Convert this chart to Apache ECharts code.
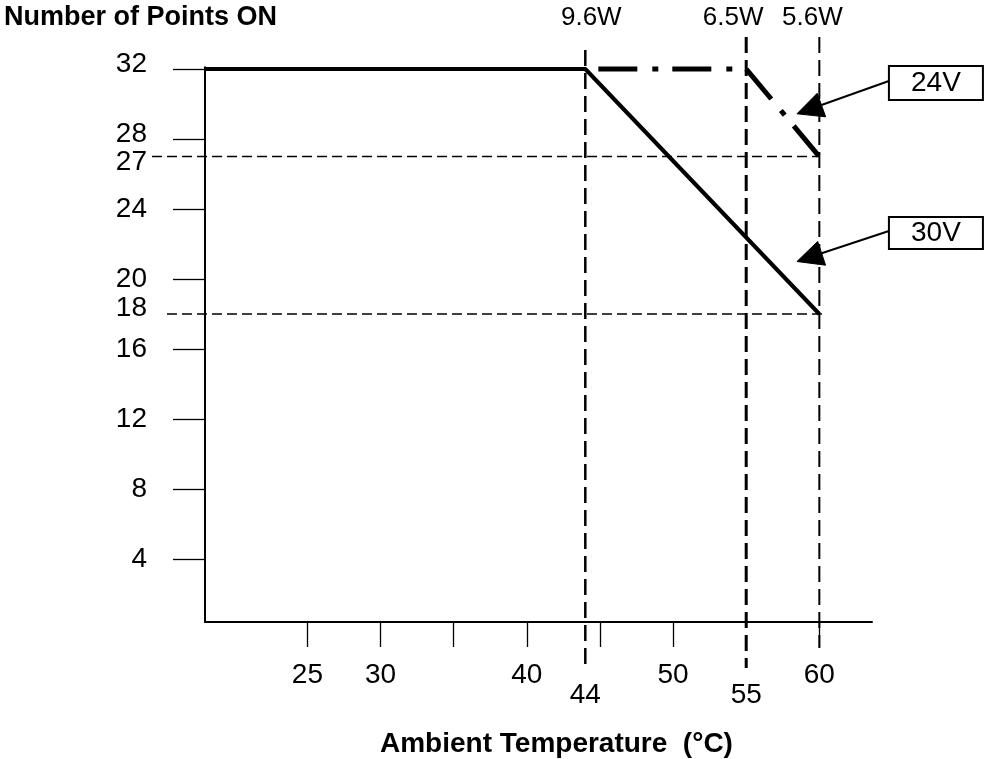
<!DOCTYPE html>
<html><head><meta charset="utf-8">
<script src="https://cdn.jsdelivr.net/npm/echarts@6/dist/echarts.min.js"></script>
<style>html,body{margin:0;padding:0;background:#fff}#c{width:986px;height:759px}</style>
</head><body><div id="c"></div>
<script>
// ---- data ----
const yTitle = 'Number of Points ON';
const xTitle = 'Ambient Temperature  (°C)';
const xTickValues = [25, 30, 35, 40, 45, 50, 60];
const xLabelValues = [25, 30, 40, 50, 60];
const xLowLabelValues = [44, 55];
const yTickValues = [4, 8, 12, 16, 20, 24, 28, 32];
const yLabelValues = [4, 8, 12, 16, 18, 20, 24, 27, 28, 32];
const temp30V = [18, 44, 60];
const points30V = [32, 32, 18];
const temp24V = [44, 55, 60];
const points24V = [32, 32, 27];
const breakTemps = [44, 55, 60];
const breakPower = ['9.6W', '6.5W', '5.6W'];
const limitLevels = [27, 18];
const seriesNames = ['24V', '30V'];

// ---- layout / style ----
const FONT = "'Liberation Sans', Arial, Helvetica, sans-serif";
const X_MIN = 18, X_MAX = 63.6, Y_MIN = 0.4, Y_MAX = 32.1;
const vTop = [33.09, 33.83, 33.83];
const vBot = [-2.06, -2.23, -1.09];
const vWidth = [2.5, 3, 2];
const powerDx = [6, -13, -7];
const hStart = [14.38, 15.4];
const hEnd = [60, 60.5];
const calloutTip = [[58.47, 29.44], [58.47, 21.0]];
const calloutBox = [[67.97, 31.2], [67.97, 22.63]];
const boxH = [34, 32];

const chart = echarts.init(document.getElementById('c'), null, {renderer: 'canvas'});

const labelShift = {32: 'u', 28: 'u', 18: 'u2', 27: 'd'};
const richBase = {fontFamily: FONT, fontSize: 28, color: '#000'};

const option = {
  backgroundColor: '#fff',
  animation: false,
  title: [
    {text: yTitle, left: 4, top: 4, padding: 0,
     textStyle: {fontFamily: FONT, fontSize: 27, fontWeight: 'bold', color: '#000'}},
    {text: xTitle, left: 380, top: 730, padding: 0,
     textStyle: {fontFamily: FONT, fontSize: 28, fontWeight: 'bold', color: '#000'}}
  ],
  grid: {left: 205, right: 114, top: 67.25, bottom: 137, containLabel: false, outerBoundsMode: 'none'},
  xAxis: [
    {type: 'value', min: X_MIN, max: X_MAX, position: 'bottom',
     axisLine: {show: true, lineStyle: {color: '#000', width: 2}},
     axisTick: {show: true, inside: false, length: 25, customValues: xTickValues, lineStyle: {color: '#000', width: 1.3}},
     axisLabel: {show: true, customValues: xLabelValues, margin: 39, hideOverlap: false,
                 fontFamily: FONT, fontSize: 28, color: '#000'},
     splitLine: {show: false}},
    {type: 'value', min: X_MIN, max: X_MAX, position: 'bottom', offset: 0,
     axisLine: {show: false}, axisTick: {show: false},
     axisLabel: {show: true, customValues: xLowLabelValues, margin: 59, hideOverlap: false,
                 fontFamily: FONT, fontSize: 28, color: '#000'},
     splitLine: {show: false}}
  ],
  yAxis: {
    type: 'value', min: Y_MIN, max: Y_MAX,
    axisLine: {show: true, lineStyle: {color: '#000', width: 2}},
    axisTick: {show: true, inside: false, length: 32, customValues: yTickValues, lineStyle: {color: '#000', width: 1.3}},
    axisLabel: {show: true, customValues: yLabelValues, margin: 58, hideOverlap: false,
                fontFamily: FONT, fontSize: 28, color: '#000',
                formatter: v => labelShift[v] ? '{' + labelShift[v] + '|' + v + '}' : String(v),
                rich: {
                  u: Object.assign({padding: [0, 0, 10, 0]}, richBase),
                  u2: Object.assign({padding: [0, 0, 12, 0]}, richBase),
                  d: Object.assign({padding: [12, 0, 0, 0]}, richBase)
                }},
    splitLine: {show: false}
  },
  series: [
    { // horizontal limit guides
      type: 'custom', name: 'levels', clip: false, silent: true, z: 1,
      data: limitLevels.map(v => [X_MIN, v]),
      renderItem: (params, api) => {
        const i = params.dataIndex;
        const v = api.value(1);
        const a = api.coord([hStart[i], v]);
        const b = api.coord([hEnd[i], v]);
        return {type: 'line', shape: {x1: a[0], y1: a[1], x2: b[0], y2: b[1]},
                style: {stroke: '#000', lineWidth: 1.3, lineDash: [10, 5], fill: null}};
      }
    },
    { // vertical break guides with power labels
      type: 'custom', name: 'breaks', clip: false, silent: true, z: 1,
      data: breakTemps.map(t => [t, Y_MIN]),
      renderItem: (params, api) => {
        const i = params.dataIndex;
        const t = api.value(0);
        const a = api.coord([t, vTop[i]]);
        const b = api.coord([t, vBot[i]]);
        const lp = api.coord([t, 34.95]);
        return {type: 'group', children: [
          {type: 'line', shape: {x1: a[0], y1: a[1], x2: b[0], y2: b[1]},
           style: {stroke: '#000', lineWidth: vWidth[i], lineDash: [16, 7], fill: null}},
          {type: 'text', x: lp[0] + powerDx[i], y: lp[1],
           style: {text: breakPower[i], fontFamily: FONT, fontSize: 26, fill: '#000', align: 'center', verticalAlign: 'middle'}}
        ]};
      }
    },
    {
      type: 'line', name: seriesNames[0], data: temp24V.map((t, i) => [t, points24V[i]]),
      showSymbol: false, symbol: 'none', clip: false, z: 3,
      lineStyle: {color: '#000', width: 5, type: [39, 15, 6, 14], dashOffset: 61, cap: 'butt'}
    },
    {
      type: 'line', name: seriesNames[1], data: temp30V.map((t, i) => [t, points30V[i]]),
      showSymbol: false, symbol: 'none', clip: false, z: 3,
      lineStyle: {color: '#000', width: 4, type: 'solid', cap: 'butt'}
    },
    { // callouts
      type: 'custom', name: 'callouts', clip: false, silent: true, z: 4,
      data: seriesNames.map((n, i) => [calloutBox[i][0], calloutBox[i][1]]),
      renderItem: (params, api) => {
        const i = params.dataIndex;
        const tip = api.coord(calloutTip[i]);
        const c = api.coord(calloutBox[i]);
        const w = 94, h = boxH[i];
        const tail = [c[0] - w / 2, c[1] - 2];
        const dx = tail[0] - tip[0], dy = tail[1] - tip[1];
        const len = Math.sqrt(dx * dx + dy * dy);
        const ux = dx / len, uy = dy / len;
        const hl = 26, hw = 12.5;
        const base = [tip[0] + ux * hl, tip[1] + uy * hl];
        const p1 = [base[0] - uy * hw, base[1] + ux * hw];
        const p2 = [base[0] + uy * hw, base[1] - ux * hw];
        return {type: 'group', children: [
          {type: 'line', shape: {x1: tail[0], y1: tail[1], x2: base[0], y2: base[1]},
           style: {stroke: '#000', lineWidth: 2, fill: null}},
          {type: 'polygon', shape: {points: [tip, p1, p2]}, style: {fill: '#000', stroke: '#000', lineWidth: 1}},
          {type: 'rect', shape: {x: c[0] - w / 2, y: c[1] - h / 2, width: w, height: h},
           style: {fill: '#fff', stroke: '#000', lineWidth: 2}},
          {type: 'text', x: c[0], y: c[1],
           style: {text: seriesNames[i], fontFamily: FONT, fontSize: 28, fill: '#000', align: 'center', verticalAlign: 'middle'}}
        ]};
      }
    }
  ]
};
chart.setOption(option);
</script>
</body></html>
